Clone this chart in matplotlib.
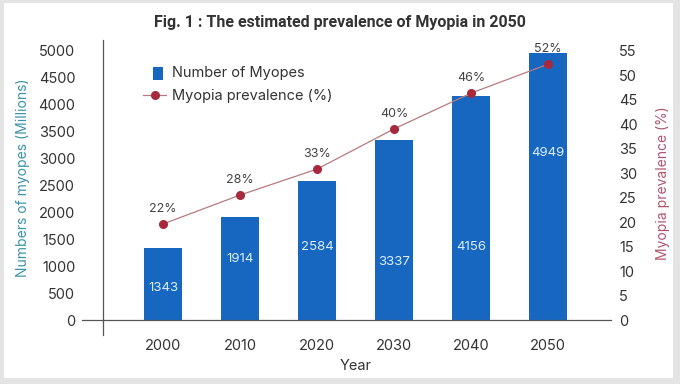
import matplotlib
matplotlib.use("Agg")
import matplotlib.pyplot as plt
from matplotlib.patches import Rectangle
from matplotlib.lines import Line2D

years = ["2000", "2010", "2020", "2030", "2040", "2050"]
myopes = [1343, 1914, 2584, 3337, 4156, 4949]
prevalence = [19.6, 25.5, 30.8, 39.0, 46.3, 52.2]  # position des points
prevalence_labels = ["22%", "28%", "33%", "40%", "46%", "52%"]

# hauteur des étiquettes dans les barres (unités de l'axe gauche)
label_y = [594, 1132, 1354, 1076, 1354, 3098]

W, H = 680, 384
BLUE = "#1767c0"
RED = "#a8283c"
LINE = "#b87a80"

plt.rcParams['font.family'] = ['Inter', 'DejaVu Sans']


def px(x, y):
    return x / W, 1 - y / H


fig = plt.figure(figsize=(W / 100, H / 100), dpi=100, facecolor="#e4e4e4")
fig.patches.append(Rectangle(px(4, 378), 669 / W, 375 / H, transform=fig.transFigure,
                             facecolor="white", edgecolor="none", zorder=-10))

ax = fig.add_axes([103 / W, (H - 335) / H, 508 / W, 295 / H])
ax.patch.set_alpha(0)
x = list(range(len(years)))
ax.bar(x, myopes, width=0.5, color=BLUE, zorder=2)
ax.set_xlim((103 - 163) / 77, (611 - 163) / 77)
ax.set_ylim(-278, 5195)
ax.set_yticks(range(0, 5001, 500))
ax.set_xticks(x)
ax.set_xticklabels(years)
ax.tick_params(axis="y", length=0, pad=20, labelsize=10.5, labelcolor="#333333")
ax.tick_params(axis="x", length=0, pad=3, labelsize=10.5, labelcolor="#333333")
for s in ["top", "right", "bottom"]:
    ax.spines[s].set_visible(False)
ax.spines["left"].set_color("#555555")
ax.spines["left"].set_linewidth(0.9)
ax.axhline(0, xmin=(82 - 103) / 508, xmax=1, color="#555555", lw=0.9, clip_on=False, zorder=3)

for xi, v, ly in zip(x, myopes, label_y):
    ax.text(xi, ly, str(v), ha="center", va="center", color="#dbeeff", fontsize=9.5, zorder=4)

ax2 = ax.twinx()
ax2.plot(x, prevalence, color=LINE, lw=0.9, marker="o", markersize=5.5,
         markerfacecolor=RED, markeredgecolor=RED, zorder=5)
ax2.set_ylim(-278 * 55 / 5000, 5195 * 55 / 5000)
ax2.set_yticks(range(0, 56, 5))
ax2.tick_params(axis="y", length=0, pad=6, labelsize=10.5, labelcolor="#333333")
for s in ax2.spines.values():
    s.set_visible(False)
for xi, p, lab in zip(x, prevalence, prevalence_labels):
    ax2.annotate(lab, (xi, p), xytext=(0, 11), textcoords="offset points",
                 ha="center", va="center", fontsize=9, color="#444444")

# titres et axes
fig.text(*px(340, 22), "Fig. 1 : The estimated prevalence of Myopia in 2050",
         ha="center", va="center", fontsize=11.5, fontweight="bold", color="#333333",
         family=["Roboto", "DejaVu Sans"])
fig.text(*px(23, 178), "Numbers of myopes (Millions)", rotation=90, ha="center", va="center",
         fontsize=10, color="#3b93a8")
fig.text(*px(663, 183), "Myopia prevalence (%)", rotation=90, ha="center", va="center",
         fontsize=10, color="#b0566e")
fig.text(*px(356, 366), "Year", ha="center", va="center", fontsize=10.5, color="#333333")

# légende
fig.patches.append(Rectangle(px(153, 80), 10 / W, 13 / H, transform=fig.transFigure,
                             facecolor=BLUE, edgecolor="none"))
fig.text(*px(172, 73), "Number of Myopes", ha="left", va="center", fontsize=10.5, color="#333333")
fig.lines.append(Line2D([143 / W, 166 / W], [1 - 95 / H, 1 - 95 / H], transform=fig.transFigure,
                        color=LINE, lw=0.9))
fig.lines.append(Line2D([155 / W], [1 - 95 / H], transform=fig.transFigure, marker="o",
                        markersize=5.5, color=RED))
fig.text(*px(172, 96), "Myopia prevalence (%)", ha="left", va="center", fontsize=10.5, color="#333333")

fig.savefig("out.png", dpi=100, facecolor=fig.get_facecolor())
